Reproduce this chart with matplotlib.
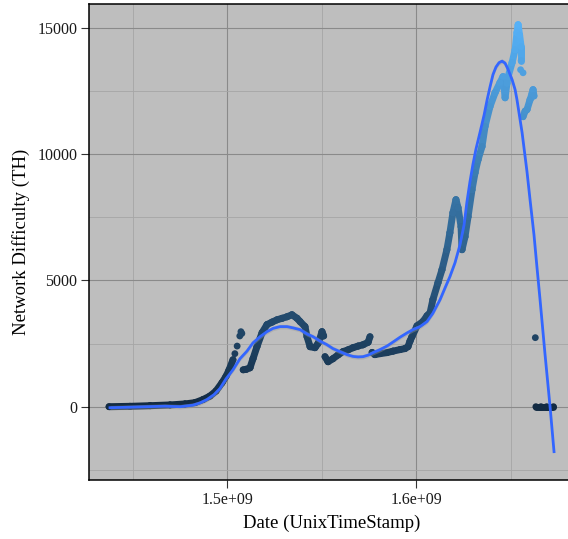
import numpy as np
import matplotlib
matplotlib.use("Agg")
import matplotlib.pyplot as plt
from matplotlib.collections import LineCollection
from matplotlib.colors import LinearSegmentedColormap, Normalize

plt.rcParams["font.family"] = ["Liberation Serif", "DejaVu Serif"]

# network difficulty readings (timestamp in 1e9 s, TH), one list per run between drops
launch_t = [1.4374, 1.4485, 1.4591, 1.4697, 1.4776, 1.4829, 1.4871, 1.4908,
            1.4940, 1.4972, 1.4993, 1.5009, 1.5030]
launch_d = [0, 15, 40, 70, 110, 160, 280, 420, 620, 950, 1200, 1450, 1860]

spike_t = [1.5040, 1.5052, 1.5066, 1.5072, 1.5077]
spike_d = [2100, 2400, 2800, 2970, 2900]

byz_t = [1.5084, 1.5100, 1.5120, 1.5136, 1.5157, 1.5184, 1.5210, 1.5237,
         1.5263, 1.5290, 1.5316, 1.5342, 1.5369, 1.5385, 1.5411, 1.5422,
         1.5438, 1.5464, 1.5480, 1.5490, 1.5501, 1.5510]
byz_d = [1460, 1480, 1540, 1900, 2380, 2930, 3250, 3350, 3440, 3500, 3560,
         3640, 3500, 3370, 3170, 2770, 2375, 2335, 2500, 2700, 2970, 2800]

cons_t = [1.5517, 1.5533, 1.5559, 1.5586, 1.5612, 1.5639, 1.5665, 1.5692,
          1.5718, 1.5745, 1.5755]
cons_d = [1980, 1780, 1900, 2050, 2180, 2250, 2335, 2400, 2450, 2550, 2770]

muir_t = [1.5766, 1.5781, 1.5808, 1.5845, 1.5877, 1.5914, 1.5940, 1.5956,
          1.5967, 1.5977, 1.6004, 1.6035, 1.6057, 1.6073, 1.6088, 1.6115,
          1.6136, 1.6162, 1.6178, 1.6194, 1.6210, 1.6221, 1.6237, 1.6242,
          1.6258, 1.6274, 1.6295, 1.6311, 1.6327, 1.6348, 1.6364, 1.6390,
          1.6417, 1.6443, 1.6459, 1.6470, 1.6480, 1.6486, 1.6507, 1.6523,
          1.6533, 1.6539, 1.6547, 1.6555, 1.6555]
muir_d = [2150, 2060, 2100, 2140, 2200, 2260, 2300, 2375, 2600, 2770, 3200,
          3370, 3600, 3720, 4240, 4910, 5420, 6215, 6890, 7680, 8195, 7880,
          7125, 6215, 6730, 7520, 8590, 9260, 9780, 10300, 11100, 11880,
          12430, 12830, 13065, 12230, 12800, 13065, 13620, 14130, 14810,
          15120, 14700, 14250, 13700]

tail_t = [1.6552, 1.6565]
tail_d = [13340, 13220]

gray_t = [1.6565, 1.6576, 1.6586, 1.6602, 1.6613, 1.6618, 1.6623]
gray_d = [11480, 11700, 11760, 12150, 12400, 12550, 12300]

merge_t = [1.6630]
merge_d = [2733]

pos_t = [1.6633, 1.6660, 1.6690, 1.6726]
pos_d = [0, 0, 0, 0]

# fitted smooth curve
smooth_t = [1.4379, 1.4485, 1.4575, 1.4670, 1.4750, 1.4818, 1.4856, 1.4892,
            1.4930, 1.4961, 1.4993, 1.5030, 1.5067, 1.5104, 1.5136, 1.5173,
            1.5210, 1.5242, 1.5279, 1.5316, 1.5348, 1.5385, 1.5422, 1.5454,
            1.5490, 1.5527, 1.5559, 1.5596, 1.5633, 1.5665, 1.5692, 1.5718,
            1.5745, 1.5771, 1.5808, 1.5845, 1.5877, 1.5914, 1.5951, 1.5982,
            1.6020, 1.6057, 1.6088, 1.6126, 1.6152, 1.6178, 1.6205, 1.6231,
            1.6253, 1.6268, 1.6284, 1.6300, 1.6316, 1.6337, 1.6359, 1.6375,
            1.6390, 1.6406, 1.6422, 1.6438, 1.6454, 1.6470, 1.6486, 1.6507,
            1.6523, 1.6533, 1.6560, 1.6586, 1.6602, 1.6623, 1.6639, 1.6655,
            1.6681, 1.6708, 1.6729]
smooth_d = [-40, -20, 0, 20, 0, 60, 150, 280, 480, 720, 1100, 1460, 1900,
            2200, 2530, 2770, 2970, 3100, 3170, 3170, 3120, 3050, 2880, 2770,
            2600, 2455, 2300, 2180, 2060, 1990, 1970, 1980, 2040, 2140, 2260,
            2400, 2560, 2750, 2920, 3050, 3170, 3370, 3700, 4240, 4700, 5150,
            5700, 6400, 7200, 8100, 8900, 9600, 10200, 10850, 11550, 12150,
            12650, 13150, 13450, 13620, 13680, 13600, 13350, 12950, 12550,
            12150, 10850, 9300, 8200, 6800, 5500, 4240, 2100, 0, -1780]

x_ticks = [1.5e9, 1.6e9]
x_tick_labels = ["1.5e+09", "1.6e+09"]
y_ticks = [0, 5000, 10000, 15000]

cmap = LinearSegmentedColormap.from_list("gg", ["#132B43", "#56B1F7"])
norm = Normalize(vmin=0, vmax=max(muir_d))

fig = plt.figure(figsize=(5.68, 5.39), dpi=100)
ax = fig.add_axes([89 / 568, 59 / 539, 486 / 568, 476 / 539])
ax.set_facecolor("#BEBEBE")

runs = [(launch_t, launch_d), (byz_t, byz_d), (cons_t, cons_d),
        (muir_t, muir_d), (gray_t, gray_d), (pos_t, pos_d)]
for ts, ds in runs:
    x = np.array(ts) * 1e9
    y = np.array(ds, dtype=float)
    pts = np.column_stack([x, y]).reshape(-1, 1, 2)
    segs = np.concatenate([pts[:-1], pts[1:]], axis=1)
    lc = LineCollection(segs, colors=cmap(norm((y[:-1] + y[1:]) / 2)),
                        linewidths=5, capstyle="round", joinstyle="round", zorder=3)
    ax.add_collection(lc)

all_t = launch_t + spike_t + byz_t + cons_t + muir_t + tail_t + gray_t + merge_t + pos_t
all_d = launch_d + spike_d + byz_d + cons_d + muir_d + tail_d + gray_d + merge_d + pos_d
ax.scatter(np.array(all_t) * 1e9, all_d, c=all_d, cmap=cmap, norm=norm,
           s=24, linewidths=0, zorder=3)

sx = np.array(smooth_t) * 1e9
sy = np.array(smooth_d, dtype=float)
ax.fill_between(sx, sy - 90, sy + 90, color="#999999", alpha=0.4, lw=0, zorder=4)
ax.plot(sx, sy, color="#3366FF", lw=2.0, zorder=5)

ax.set_xlim(1.4268e9, 1.684e9)
ax.set_ylim(-2902, 15942)
ax.set_xticks(x_ticks)
ax.set_xticklabels(x_tick_labels)
ax.set_xticks([1.45e9, 1.55e9, 1.65e9], minor=True)
ax.set_yticks(y_ticks)
ax.set_yticks([-2500, 2500, 7500, 12500], minor=True)

ax.grid(which="major", color="#8A8A8A", lw=0.8)
ax.grid(which="minor", color="#A6A6A6", lw=0.6)
ax.set_axisbelow(True)
ax.tick_params(which="major", length=5.5, width=0.8, color="#333333",
               labelsize=11.5, labelcolor="#1A1A1A", pad=3)
ax.tick_params(which="minor", length=0)
ax.tick_params(top=False, right=False)

for side in ["left", "bottom", "top"]:
    ax.spines[side].set_color("black")
    ax.spines[side].set_linewidth(1.1)
ax.spines["right"].set_visible(False)

ax.set_xlabel("Date (UnixTimeStamp)", fontsize=13.5, labelpad=5)
ax.set_ylabel("Network Difficulty (TH)", fontsize=13.5, labelpad=5)

fig.savefig("out.png", dpi=100)
